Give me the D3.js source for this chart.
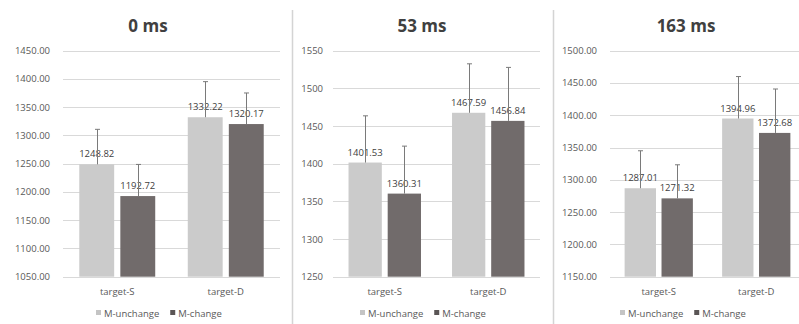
<!DOCTYPE html>
<html><head><meta charset="utf-8">
<script src="https://cdn.jsdelivr.net/npm/d3@7"></script>
<style>html,body{margin:0;padding:0;background:#fff;}svg{display:block;font-family:"Open Sans",sans-serif;}</style>
</head><body>
<script>
const categories = ["target-S", "target-D"];
const seriesNames = ["M-unchange", "M-change"];
const titles = ["0 ms", "53 ms", "163 ms"];

const unchange0 = [1248.82, 1332.22];
const change0 = [1192.72, 1320.17];
const unchangeErr0 = [62, 63];
const changeErr0 = [56, 55];

const unchange53 = [1401.53, 1467.59];
const change53 = [1360.31, 1456.84];
const unchangeErr53 = [62, 65];
const changeErr53 = [63, 71];

const unchange163 = [1287.01, 1394.96];
const change163 = [1271.32, 1372.68];
const unchangeErr163 = [58, 65];
const changeErr163 = [52, 68];

const ticks0 = [1050, 1100, 1150, 1200, 1250, 1300, 1350, 1400, 1450];
const ticks53 = [1250, 1300, 1350, 1400, 1450, 1500, 1550];
const ticks163 = [1150, 1200, 1250, 1300, 1350, 1400, 1450, 1500];
const tickDecimals = [2, 0, 2];

const colors = ["#cbcbcb", "#716b6b"];
const legendColors = ["#c4c4c4", "#5a5555"];

const panels = [
  {title: titles[0], vals: [unchange0, change0], errs: [unchangeErr0, changeErr0], ticks: ticks0, dec: tickDecimals[0],
   x0: 63, x1: 280, gridEnd: 280, labelX: 50, titleX: 148, legendX: 96},
  {title: titles[1], vals: [unchange53, change53], errs: [unchangeErr53, changeErr53], ticks: ticks53, dec: tickDecimals[1],
   x0: 333, x1: 540, gridEnd: 540, labelX: 323, titleX: 422, legendX: 360},
  {title: titles[2], vals: [unchange163, change163], errs: [unchangeErr163, changeErr163], ticks: ticks163, dec: tickDecimals[2],
   x0: 610, x1: 805, gridEnd: 799, labelX: 597, titleX: 686, legendX: 620}
];

const W = 799, H = 324, plotTop = 50.7, plotBottom = 276.7;
const svg = d3.select("body").append("svg").attr("width", W).attr("height", H);

// separators
[292.5, 553.5].forEach(x => {
  svg.append("line").attr("x1", x).attr("x2", x).attr("y1", 10).attr("y2", H)
    .attr("stroke", "#d4d4d4").attr("stroke-width", 1.5);
});

panels.forEach(p => {
  const g = svg.append("g");
  const y = d3.scaleLinear().domain(d3.extent(p.ticks)).range([plotBottom, plotTop]);
  const xb = d3.scaleBand().domain(categories).range([p.x0, p.x1]).paddingInner(0.3).paddingOuter(0.15);
  const xs = d3.scaleBand().domain(seriesNames).range([0, xb.bandwidth()]).paddingInner(0.15);

  // gridlines
  g.selectAll(".grid").data(p.ticks).join("line")
    .attr("x1", p.x0).attr("x2", p.gridEnd)
    .attr("y1", d => Math.round(y(d)) + 0.5).attr("y2", d => Math.round(y(d)) + 0.5)
    .attr("stroke", "#d9d9d9").attr("stroke-width", 1);

  // y labels
  g.selectAll(".yl").data(p.ticks).join("text")
    .attr("x", p.labelX).attr("y", d => y(d) + 3.5)
    .attr("text-anchor", "end").attr("font-size", 9.5).attr("fill", "#595959")
    .text(d => d.toFixed(p.dec));

  // title
  g.append("text").attr("x", p.titleX).attr("y", 32).attr("text-anchor", "middle")
    .attr("font-size", 17).attr("font-weight", "bold").attr("fill", "#404040").text(p.title);

  // bars
  const items = [];
  categories.forEach((c, ci) => seriesNames.forEach((s, si) => {
    items.push({c, s, si, v: p.vals[si][ci], e: p.errs[si][ci]});
  }));

  g.selectAll(".bar").data(items).join("rect")
    .attr("x", d => xb(d.c) + xs(d.s)).attr("width", xs.bandwidth())
    .attr("y", d => y(d.v)).attr("height", d => plotBottom - y(d.v))
    .attr("fill", d => colors[d.si]);

  // value labels
  g.selectAll(".vl").data(items).join("text")
    .attr("x", d => xb(d.c) + xs(d.s) + xs.bandwidth() / 2).attr("y", d => y(d.v) - 7)
    .attr("text-anchor", "middle").attr("font-size", 9.5).attr("fill", "#404040")
    .text(d => d.v.toFixed(2));

  // error bars (plus only)
  items.forEach(d => {
    const cx = Math.round(xb(d.c) + xs(d.s) + xs.bandwidth() / 2) + 0.5;
    g.append("line").attr("x1", cx).attr("x2", cx).attr("y1", y(d.v)).attr("y2", y(d.v + d.e))
      .attr("stroke", "#7a7a7a").attr("stroke-width", 1);
    g.append("line").attr("x1", cx - 2.5).attr("x2", cx + 2.5).attr("y1", y(d.v + d.e)).attr("y2", y(d.v + d.e))
      .attr("stroke", "#7a7a7a").attr("stroke-width", 1);
  });

  // category labels
  g.selectAll(".cl").data(categories).join("text")
    .attr("x", d => xb(d) + xb.bandwidth() / 2).attr("y", 295)
    .attr("text-anchor", "middle").attr("font-size", 9.5).attr("fill", "#595959").text(d => d);

  // legend
  let lx = p.legendX;
  seriesNames.forEach((s, si) => {
    g.append("rect").attr("x", lx).attr("y", 310).attr("width", 5).attr("height", 5).attr("fill", legendColors[si]);
    const t = g.append("text").attr("x", lx + 8).attr("y", 316.5).attr("font-size", 9.5).attr("fill", "#595959").text(s);
    lx += 8 + t.node().getComputedTextLength() + 11;
  });
});
</script>
</body></html>
